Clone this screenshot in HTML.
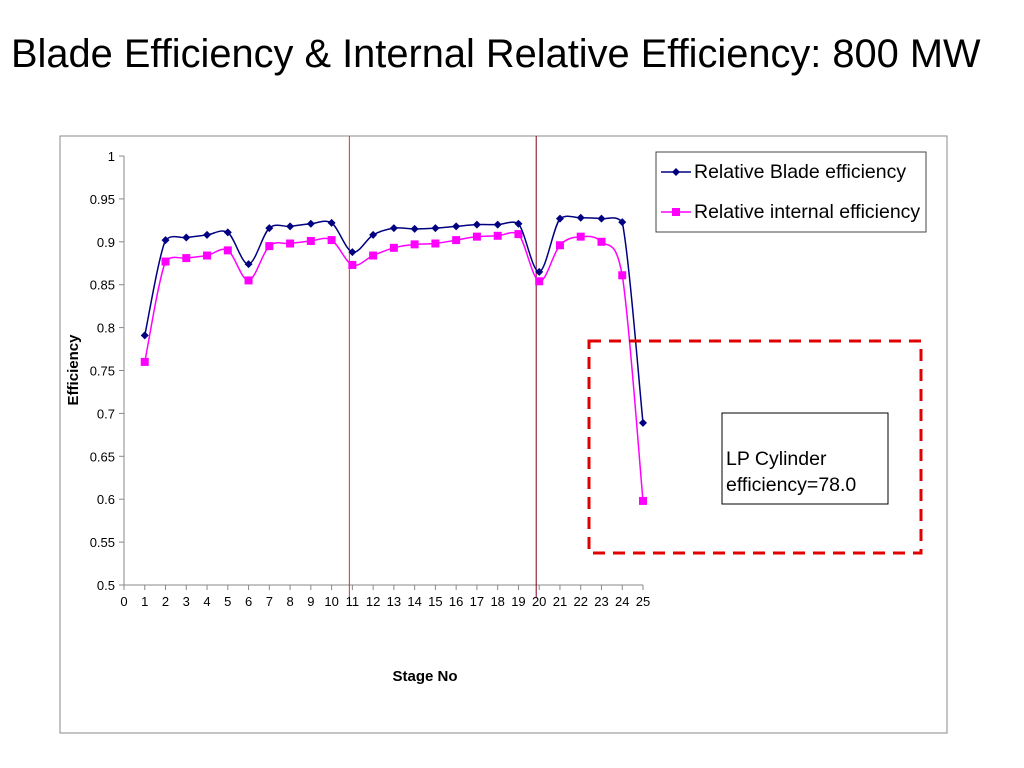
<!DOCTYPE html>
<html><head><meta charset="utf-8"><style>
body{margin:0;background:#fff;font-family:"Liberation Sans",sans-serif;}
</style></head><body>
<div style="position:relative;width:1024px;height:768px;">
<div style="position:absolute;left:11px;top:32px;font-size:39.8px;color:#000;white-space:nowrap;">Blade Efficiency &amp; Internal Relative Efficiency: 800 MW</div>
<svg id="chart" width="1024" height="768" style="position:absolute;left:0;top:0;" font-family="Liberation Sans, sans-serif">
<rect x="60" y="136" width="887" height="597" fill="none" stroke="#888" stroke-width="1"/>
</svg>
</div>
<script>
const stages=[1,2,3,4,5,6,7,8,9,10,11,12,13,14,15,16,17,18,19,20,21,22,23,24,25];
const bladeEff=[0.791,0.902,0.905,0.908,0.911,0.874,0.916,0.918,0.921,0.922,0.888,0.908,0.916,0.915,0.916,0.918,0.920,0.920,0.921,0.865,0.927,0.928,0.927,0.923,0.689];
const internalEff=[0.760,0.877,0.881,0.884,0.890,0.855,0.895,0.898,0.901,0.902,0.873,0.884,0.893,0.897,0.898,0.902,0.906,0.907,0.909,0.854,0.896,0.906,0.900,0.861,0.598];
const yTicks=[0.5,0.55,0.6,0.65,0.7,0.75,0.8,0.85,0.9,0.95,1];
const xTicks=[0,1,2,3,4,5,6,7,8,9,10,11,12,13,14,15,16,17,18,19,20,21,22,23,24,25];
const vLines=[11,20];
const NS='http://www.w3.org/2000/svg';
const svg=document.getElementById('chart');
const X0=124,X1=643,Y0=585,Y1=156;
const xs=v=>X0+(v-0)/25*(X1-X0);
const ys=v=>Y0-(v-0.5)/0.5*(Y0-Y1);
function mk(t,a,p){const e=document.createElementNS(NS,t);for(const k in a)e.setAttribute(k,a[k]);(p||svg).appendChild(e);return e;}
let e=mk('line',{x1:X0,y1:Y1,x2:X0,y2:Y0,stroke:'#888'});


e=mk('line',{x1:X0,y1:Y0,x2:X1,y2:Y0,stroke:'#888'});


yTicks.forEach(v=>{
 const y=ys(v);
 mk('line',{x1:X0-5,y1:y,x2:X0,y2:y,stroke:'#888'});
 const t=mk('text',{x:X0-9,y:y+5,'text-anchor':'end','font-size':13});
 t.textContent=String(v);
 
 
});
xTicks.forEach(v=>{
 const x=xs(v);
 mk('line',{x1:x,y1:Y0,x2:x,y2:Y0+5,stroke:'#888'});
 const t=mk('text',{x:x,y:Y0+21,'text-anchor':'middle','font-size':13});
 t.textContent=String(v);
 
 
});
vLines.forEach((v,i)=>{
 const l=mk('line',{x1:xs(v)-3,y1:136,x2:xs(v)-3,y2:Y0+12,stroke:i==0?'#e03030':'#800020','stroke-width':1});
 
 
});
let t=mk('text',{x:425,y:681,'text-anchor':'middle','font-size':15,'font-weight':'bold'});
t.textContent='Stage No';


t=mk('text',{x:78,y:370,'text-anchor':'middle','font-size':15,'font-weight':'bold',transform:'rotate(-90 78 370)'});
t.textContent='Efficiency';


function smooth(pts){
 let d='M'+pts[0][0]+','+pts[0][1];
 for(let i=0;i<pts.length-1;i++){
  const p0=pts[Math.max(0,i-1)],p1=pts[i],p2=pts[i+1],p3=pts[Math.min(pts.length-1,i+2)];
  const k=1/6;
  const lo=Math.min(p1[1],p2[1])-4,hi=Math.max(p1[1],p2[1])+4;
  const cl=v=>Math.max(lo,Math.min(hi,v));
  d+=' C'+(p1[0]+(p2[0]-p0[0])*k)+','+cl(p1[1]+(p2[1]-p0[1])*k)+' '+(p2[0]-(p3[0]-p1[0])*k)+','+cl(p2[1]-(p3[1]-p1[1])*k)+' '+p2[0]+','+p2[1];
 }
 return d;
}
function series(vals,color,shape,name){
 const pts=stages.map((s,i)=>[xs(s),ys(vals[i])]);
 const p=mk('path',{d:smooth(pts),fill:'none',stroke:color,'stroke-width':1.5});
 
 
 pts.forEach(q=>{
  let m;
  if(shape==='d') m=mk('polygon',{points:`${q[0]},${q[1]-4} ${q[0]+4},${q[1]} ${q[0]},${q[1]+4} ${q[0]-4},${q[1]}`,fill:color});
  else m=mk('rect',{x:q[0]-4,y:q[1]-4,width:8,height:8,fill:color});
  
  
 });
}
series(internalEff,'#ff00ff','s','internal-efficiency');
series(bladeEff,'#000080','d','blade-efficiency');
const lg=mk('g',{});


mk('rect',{x:656,y:152,width:270,height:80,fill:'#fff',stroke:'#444'},lg);
mk('line',{x1:661,y1:172,x2:691,y2:172,stroke:'#000080','stroke-width':1.5},lg);
mk('polygon',{points:'676,168 680,172 676,176 672,172',fill:'#000080'},lg);
t=mk('text',{x:694,y:178,'font-size':19.5},lg);t.textContent='Relative Blade efficiency';


mk('line',{x1:661,y1:212,x2:691,y2:212,stroke:'#ff00ff','stroke-width':1.5},lg);
mk('rect',{x:672,y:208,width:8,height:8,fill:'#ff00ff'},lg);
t=mk('text',{x:694,y:218,'font-size':19.5},lg);t.textContent='Relative internal efficiency';


e=mk('rect',{x:589,y:341,width:332,height:212,fill:'none',stroke:'#e00000','stroke-width':3,'stroke-dasharray':'12,8'});


e=mk('rect',{x:722,y:413,width:166,height:91,fill:'#fff',stroke:'#000'});


t=mk('text',{x:726,y:465,'font-size':19.5});t.textContent='LP Cylinder';


t=mk('text',{x:726,y:491,'font-size':19.5});t.textContent='efficiency=78.0';


</script>
</body></html>
